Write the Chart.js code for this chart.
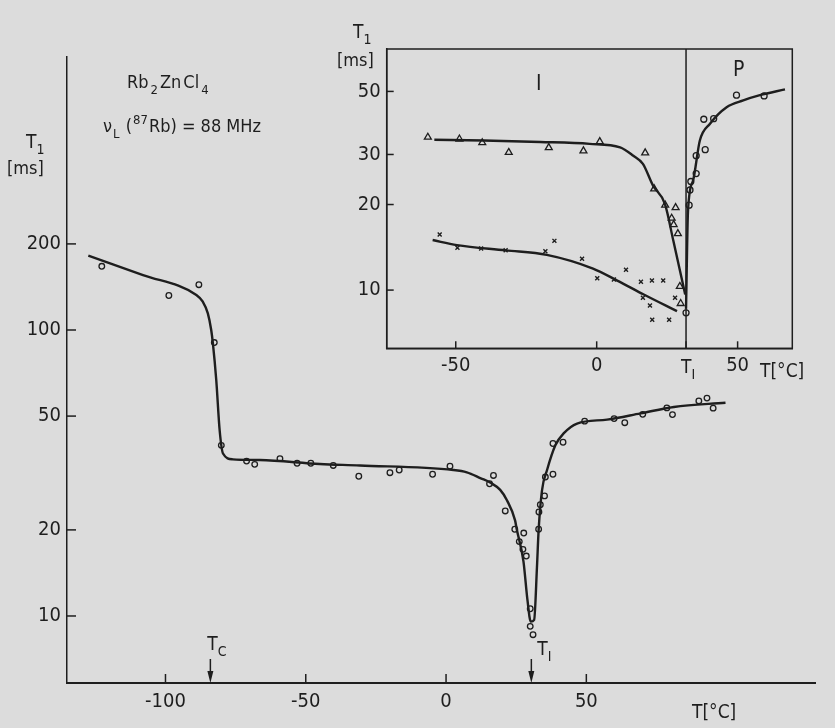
<!DOCTYPE html>
<html>
<head>
<meta charset="utf-8">
<script src="https://cdn.jsdelivr.net/npm/chart.js@4.4.1/dist/chart.umd.min.js"></script>
<style>
  html, body { margin: 0; padding: 0; background: #dcdcdc; }
  #wrap { position: relative; width: 835px; height: 728px; }
  #mainChart { position: absolute; left: 0; top: 0; }
  #insetChart { position: absolute; left: 330px; top: 0; }
</style>
</head>
<body>
<div id="wrap">
  <canvas id="mainChart" width="835" height="728"></canvas>
  <canvas id="insetChart" width="505" height="390"></canvas>
</div>
<script>
const INK = '#1e1e1e';
const BG = '#dcdcdc';
const FONT = "'Liberation Sans Narrow', 'DejaVu Sans Condensed', sans-serif";

// main plot: 87Rb T1 vs temperature (circles)
const mainTemp = [-122.7, -98.8, -88.1, -82.6, -80.1, -71.1, -68.2, -59.2, -53.1, -48.2,
  -40.2, -31.1, -20.0, -16.7, -4.8, 1.4, 15.5, 16.9, 21.1, 24.5, 26.1, 27.4, 27.7, 28.6,
  30.0, 30.0, 31.0, 33.0, 33.1, 33.6, 35.1, 35.4, 38.1, 38.1, 41.7, 49.4, 59.9, 63.7,
  70.1, 78.7, 80.7, 90.1, 93.0, 95.2];
const mainT1 = [167, 132, 144, 90.4, 39.5, 34.8, 33.9, 35.5, 34.2, 34.2,
  33.6, 30.8, 31.7, 32.4, 31.3, 33.4, 29.0, 31.0, 23.3, 20.1, 18.2, 17.1, 19.5, 16.2,
  10.6, 9.2, 8.6, 20.1, 23.1, 24.5, 26.3, 30.6, 31.3, 40.1, 40.5, 48.0, 49.0, 47.4,
  50.7, 53.4, 50.6, 56.5, 57.8, 53.3];

// hand drawn guide curve through the main data
const mainFitTemp = [-127.5, -108, -89, -86.7, -84.9, -83.7, -83.1, -81.9, -80.7, -79.5, -76.0,
  -66.4, -45, -30.7, 2.6, 7.4, 12.4, 15.7, 19.3, 21.7, 24.6, 25.2, 27.6, 29.0, 30.2,
  31.4, 32.4, 33.0, 34.2, 36.0, 39.0, 41.9, 46.7, 57.4, 69.3, 81.2, 99.6];
const mainFitT1 = [182, 155.6, 132.6, 125.6, 114.3, 100, 89.8, 66.8, 44.7, 37.0, 35.3,
  35.1, 34.0, 33.6, 32.4, 31.8, 30.3, 29.3, 27.6, 25.4, 21.6, 20.1, 15.5, 11.4, 9.56,
  9.7, 14.8, 20.0, 27.5, 32.4, 39.6, 43.5, 47.1, 48.6, 51.1, 53.8, 55.7];

const mainXTicks = [-100, -50, 0, 50];
const mainYTicks = [10, 20, 50, 100, 200];
const arrowTemps = [-84, 30.4];

// inset: incommensurate phase (triangles, crosses) and paraelectric phase (circles)
const triTemp = [-59.9, -48.7, -40.6, -31.2, -17.0, -4.7, 1.1, 17.2, 20.4, 24.3, 28.0,
  26.6, 27.3, 28.8, 29.5, 29.8];
const triT1 = [34.5, 34.0, 33.0, 30.5, 31.7, 30.9, 33.3, 30.4, 22.7, 19.9, 19.5,
  17.9, 17.0, 15.8, 10.3, 8.97];
const crossTemp = [-55.7, -49.4, -41.0, -32.3, -18.2, -15.0, -5.2, 0.2, 6.1, 10.4, 15.7,
  19.6, 23.6, 16.4, 18.9, 19.7, 25.7, 27.8];
const crossT1 = [15.7, 14.1, 14.0, 13.8, 13.7, 14.9, 12.9, 11.0, 10.9, 11.8, 10.7,
  10.8, 10.8, 9.4, 8.83, 7.87, 7.87, 9.4];
const circTemp = [31.7, 32.8, 33.1, 33.4, 35.3, 35.3, 38.5, 38.0, 41.5, 49.6, 59.4];
const circT1 = [8.32, 19.9, 22.5, 24.1, 25.7, 29.7, 31.2, 39.9, 40.1, 48.5, 48.2];

const triFitTemp = [-57.6, -40, -20, -2.5, 8.3, 13.0, 16.4, 20.0, 24.2, 27.2, 31.4];
const triFitT1 = [33.8, 33.6, 33.2, 32.7, 31.8, 29.7, 27.8, 23.3, 20.1, 14.9, 9.65];
const crossFitTemp = [-58.2, -49.6, -32.3, -17.7, -1.3, 7.3, 16.7, 28.5];
const crossFitT1 = [15.0, 14.4, 13.8, 13.3, 11.9, 10.8, 9.65, 8.43];
const circFitTemp = [31.7, 32.4, 34.2, 36.6, 40.2, 46.1, 52.0, 57.9, 66.8];
const circFitT1 = [8.6, 19.0, 24.3, 33.6, 38.5, 44.0, 46.5, 48.5, 50.8];

const insetTI = 31.7;
const insetXTicks = [-50, 0, insetTI, 50];
const insetYTicks = [10, 20, 30, 50];

function zip(xs, ys) {
  return xs.map((x, i) => ({ x: x, y: ys[i] }));
}

// text with sub/superscripts: parts = [[text, kind]], kind 'b' = sub, 'p' = sup
function drawRich(ctx, x, y, parts, size, gap) {
  ctx.save();
  ctx.fillStyle = INK;
  ctx.textAlign = 'left';
  ctx.textBaseline = 'alphabetic';
  let cx = x;
  parts.forEach(p => {
    const kind = p[1] || 'n';
    const s = kind === 'n' ? size : Math.round(size * 0.72);
    const dy = kind === 'b' ? size * 0.32 : (kind === 'p' ? -size * 0.42 : 0);
    ctx.font = s + 'px ' + FONT;
    ctx.fillText(p[0], cx, y + dy);
    cx += ctx.measureText(p[0]).width + (gap || 0);
  });
  ctx.restore();
}

function drawArrow(ctx, x, yTop, yBot) {
  ctx.save();
  ctx.strokeStyle = INK;
  ctx.fillStyle = INK;
  ctx.lineWidth = 1.5;
  ctx.beginPath();
  ctx.moveTo(x, yTop);
  ctx.lineTo(x, yBot - 8);
  ctx.stroke();
  ctx.beginPath();
  ctx.moveTo(x - 3, yBot - 12);
  ctx.lineTo(x + 3, yBot - 12);
  ctx.lineTo(x, yBot);
  ctx.closePath();
  ctx.fill();
  ctx.restore();
}

// short tick marks pointing into the plot
const inwardTicks = {
  id: 'inwardTicks',
  afterDraw(chart, args, opts) {
    const ctx = chart.ctx;
    const xs = chart.scales.x, ys = chart.scales.y;
    ctx.save();
    ctx.strokeStyle = INK;
    ctx.lineWidth = 1.5;
    xs.ticks.forEach(t => {
      const px = xs.getPixelForValue(t.value);
      ctx.beginPath();
      ctx.moveTo(px, xs.top);
      ctx.lineTo(px, xs.top - opts.len);
      ctx.stroke();
    });
    ys.ticks.forEach(t => {
      const py = ys.getPixelForValue(t.value);
      ctx.beginPath();
      ctx.moveTo(ys.right, py);
      ctx.lineTo(ys.right + opts.len, py);
      ctx.stroke();
    });
    ctx.restore();
  }
};

const mainLabels = {
  id: 'mainLabels',
  afterDraw(chart) {
    const ctx = chart.ctx;
    const xs = chart.scales.x;
    drawRich(ctx, 26, 148, [['T'], ['1', 'b']], 19);
    drawRich(ctx, 7, 174, [['[ms]']], 18, 0);
    drawRich(ctx, 127, 88, [['Rb'], ['2', 'b'], ['Zn'], ['Cl'], ['4', 'b']], 18, 2);
    drawRich(ctx, 103, 132, [['ν'], ['L', 'b'], [' ('], ['87', 'p'], ['Rb) = 88 MHz']], 18, 1);
    drawRich(ctx, 692, 718, [['T[°C]']], 19);
    arrowTemps.forEach(t => drawArrow(ctx, xs.getPixelForValue(t), 659, xs.top));
    drawRich(ctx, xs.getPixelForValue(arrowTemps[0]) - 3, 650, [['T'], ['C', 'b']], 19);
    drawRich(ctx, xs.getPixelForValue(arrowTemps[1]) + 6, 655, [['T'], ['I', 'b']], 19);
  }
};

const insetLabels = {
  id: 'insetLabels',
  afterDraw(chart) {
    const ctx = chart.ctx;
    const a = chart.chartArea;
    const xs = chart.scales.x;
    ctx.save();
    ctx.strokeStyle = INK;
    ctx.lineWidth = 1.5;
    ctx.strokeRect(a.left, a.top, a.right - a.left, a.bottom - a.top);
    ctx.restore();
    drawRich(ctx, 23, 38, [['T'], ['1', 'b']], 19);
    drawRich(ctx, 7, 66, [['[ms]']], 18);
    drawRich(ctx, xs.getPixelForValue(insetTI) - 5, 373, [['T'], ['I', 'b']], 19);
    drawRich(ctx, 430, 377, [['T[°C]']], 19);
    drawRich(ctx, 206, 90, [['I']], 21);
    drawRich(ctx, 403, 76, [['P']], 21);
  }
};

function tickFont(size) {
  return { family: FONT, size: size };
}

new Chart(document.getElementById('mainChart'), {
  type: 'scatter',
  data: {
    datasets: [
      {
        type: 'line',
        data: zip(mainFitTemp, mainFitT1),
        borderColor: INK,
        borderWidth: 2.4,
        pointRadius: 0,
        cubicInterpolationMode: 'monotone',
        fill: false
      },
      {
        data: zip(mainTemp, mainT1),
        pointStyle: 'circle',
        pointRadius: 2.8,
        borderColor: INK,
        borderWidth: 1.3,
        backgroundColor: BG
      }
    ]
  },
  options: {
    responsive: false,
    animation: false,
    devicePixelRatio: 1,
    layout: { padding: { top: 57, right: 20, left: 0, bottom: 0 } },
    plugins: {
      legend: { display: false },
      tooltip: { enabled: false },
      inwardTicks: { len: 9 }
    },
    scales: {
      x: {
        type: 'linear',
        min: -135.1,
        max: 131.5,
        grid: { display: false, drawTicks: false },
        border: { color: INK, width: 2 },
        ticks: { color: INK, font: tickFont(20), padding: 7, maxRotation: 0, callback: v => String(v) },
        afterBuildTicks: s => { s.ticks = mainXTicks.map(v => ({ value: v })); },
        afterFit: s => { s.height = 45; }
      },
      y: {
        type: 'logarithmic',
        min: 5.83,
        max: 900.7,
        grid: { display: false, drawTicks: false },
        border: { color: INK, width: 1.5 },
        ticks: { color: INK, font: tickFont(20), padding: 6, callback: v => String(v) },
        afterBuildTicks: s => { s.ticks = mainYTicks.map(v => ({ value: v })); },
        afterFit: s => { s.width = 67; }
      }
    }
  },
  plugins: [inwardTicks, mainLabels]
});

const insetYMin = 6.24, insetYMax = 70.5;

new Chart(document.getElementById('insetChart'), {
  type: 'scatter',
  data: {
    datasets: [
      {
        type: 'line',
        data: [{ x: insetTI, y: insetYMin }, { x: insetTI, y: insetYMax }],
        borderColor: INK, borderWidth: 1.5, pointRadius: 0, fill: false
      },
      {
        type: 'line',
        data: zip(triFitTemp, triFitT1),
        borderColor: INK, borderWidth: 2.4, pointRadius: 0,
        cubicInterpolationMode: 'monotone', fill: false
      },
      {
        type: 'line',
        data: zip(crossFitTemp, crossFitT1),
        borderColor: INK, borderWidth: 2.4, pointRadius: 0,
        cubicInterpolationMode: 'monotone', fill: false
      },
      {
        type: 'line',
        data: zip(circFitTemp, circFitT1),
        borderColor: INK, borderWidth: 2.4, pointRadius: 0,
        cubicInterpolationMode: 'monotone', fill: false
      },
      {
        data: zip(triTemp, triT1),
        pointStyle: 'triangle', pointRadius: 4,
        borderColor: INK, borderWidth: 1.3, backgroundColor: BG
      },
      {
        data: zip(crossTemp, crossT1),
        pointStyle: 'crossRot', pointRadius: 2.8,
        borderColor: INK, borderWidth: 1.4
      },
      {
        data: zip(circTemp, circT1),
        pointStyle: 'circle', pointRadius: 3,
        borderColor: INK, borderWidth: 1.3, backgroundColor: BG
      }
    ]
  },
  options: {
    responsive: false,
    animation: false,
    devicePixelRatio: 1,
    layout: { padding: { top: 49, right: 42.7, left: 0, bottom: 0 } },
    plugins: {
      legend: { display: false },
      tooltip: { enabled: false },
      inwardTicks: { len: 7 }
    },
    scales: {
      x: {
        type: 'linear',
        min: -74.5,
        max: 69.4,
        grid: { display: false, drawTicks: false },
        border: { color: INK, width: 1.5 },
        ticks: {
          color: INK, font: tickFont(20), padding: 5, maxRotation: 0,
          callback: v => (v === insetTI ? '' : String(v))
        },
        afterBuildTicks: s => { s.ticks = insetXTicks.map(v => ({ value: v })); },
        afterFit: s => { s.height = 41.7; }
      },
      y: {
        type: 'logarithmic',
        min: insetYMin,
        max: insetYMax,
        grid: { display: false, drawTicks: false },
        border: { color: INK, width: 1.5 },
        ticks: { color: INK, font: tickFont(20), padding: 6, callback: v => String(v) },
        afterBuildTicks: s => { s.ticks = insetYTicks.map(v => ({ value: v })); },
        afterFit: s => { s.width = 56.7; }
      }
    }
  },
  plugins: [inwardTicks, insetLabels]
});
</script>
</body>
</html>
